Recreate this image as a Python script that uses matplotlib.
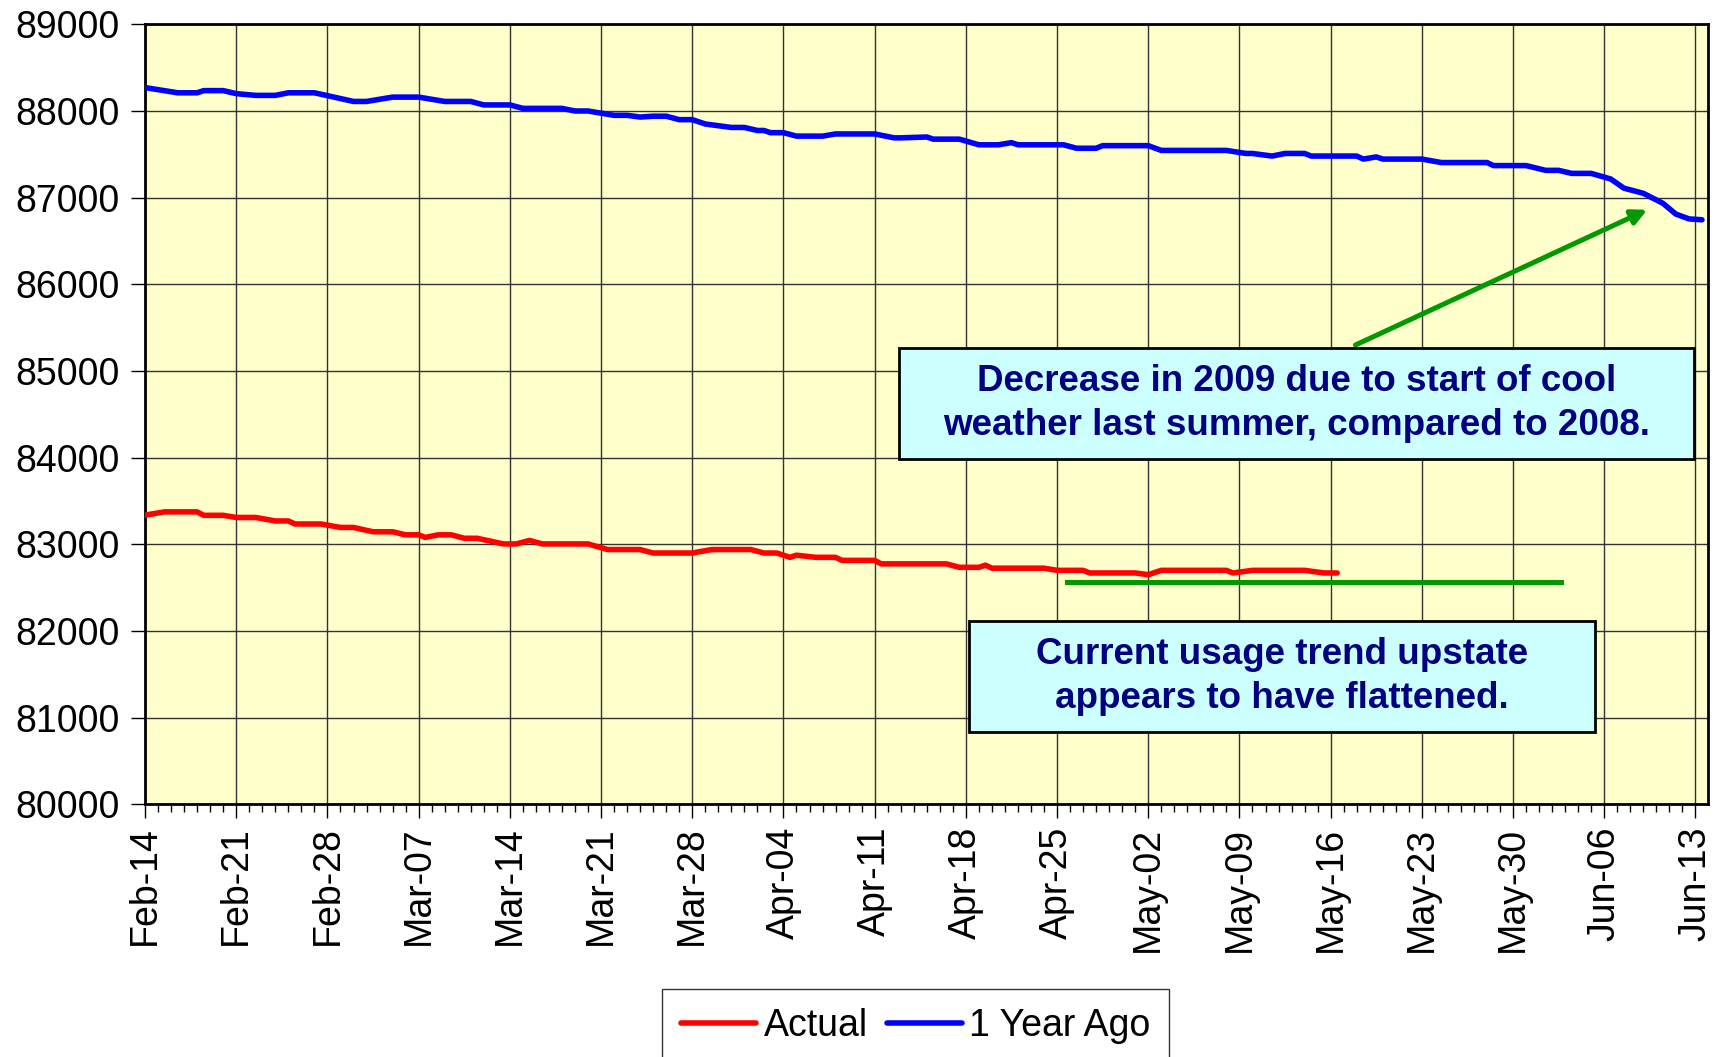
import numpy as np
import matplotlib
matplotlib.use('Agg')
import matplotlib.pyplot as plt
from matplotlib.patches import Rectangle
from matplotlib.ticker import MultipleLocator, FixedLocator

plt.rcParams['font.family'] = ['Liberation Sans', 'DejaVu Sans']

# daily category axis Feb-14 .. Jun-13 (day 0 .. 119)
tick_labels = ['Feb-14', 'Feb-21', 'Feb-28', 'Mar-07', 'Mar-14', 'Mar-21', 'Mar-28',
               'Apr-04', 'Apr-11', 'Apr-18', 'Apr-25', 'May-02', 'May-09', 'May-16',
               'May-23', 'May-30', 'Jun-06', 'Jun-13']

# 1 Year Ago (day -> value)
year_ago_days = [0, 2.5, 4, 4.5, 6, 7, 8.5, 10, 11, 13, 14.5, 16, 17, 19, 21, 23, 25, 26, 28,
                 29, 32, 33, 34, 36, 37, 38, 39, 40, 41, 42, 43, 45, 46, 47, 47.5, 48, 49, 50,
                 52, 53, 56, 57.5, 58, 60, 60.5, 62.5, 64, 65.5, 66.5, 67, 70.5, 71.5, 73,
                 73.5, 77, 78, 83, 84.5, 85, 86.5, 87.5, 89, 89.5, 93, 93.5, 94.5, 95, 98,
                 99.5, 103, 103.5, 106, 107.5, 108.5, 109.5, 111, 112.5, 113.5, 115, 116.5,
                 117.5, 118.5, 119.5]
year_ago = [88270, 88210, 88210, 88235, 88235, 88200, 88180, 88180, 88210, 88210, 88160,
            88110, 88110, 88160, 88160, 88110, 88110, 88070, 88070, 88030, 88030, 88000,
            88000, 87950, 87950, 87930, 87940, 87940, 87900, 87900, 87850, 87810, 87810,
            87775, 87775, 87750, 87750, 87710, 87710, 87735, 87735, 87690, 87690, 87700,
            87675, 87675, 87610, 87610, 87635, 87610, 87610, 87570, 87570, 87600, 87600,
            87545, 87545, 87510, 87510, 87480, 87510, 87510, 87480, 87480, 87445, 87470,
            87445, 87445, 87405, 87405, 87370, 87370, 87315, 87315, 87280, 87280, 87215,
            87110, 87050, 86935, 86810, 86755, 86745]

# Actual
actual_days = [0, 1.5, 4, 4.5, 6, 7, 8.5, 10, 11, 11.5, 13.5, 15, 16, 17.5, 19, 20, 21, 21.5,
               22.5, 23.5, 24.5, 25.5, 27.5, 28.5, 29.5, 30.5, 34, 35.5, 38, 39, 42, 43.5,
               46.5, 47.5, 48.5, 49.5, 50, 51.5, 53, 53.5, 56, 56.5, 61.5, 62.5, 64, 64.5,
               65, 69, 70, 72, 72.5, 76, 77, 78, 83, 83.5, 85, 89, 90.5, 91.5]
actual = [83337, 83375, 83375, 83335, 83335, 83310, 83310, 83270, 83270, 83235, 83235,
          83195, 83195, 83145, 83145, 83110, 83110, 83080, 83110, 83110, 83070, 83070,
          83005, 83005, 83045, 83005, 83005, 82940, 82940, 82900, 82900, 82940, 82940,
          82900, 82900, 82850, 82875, 82850, 82850, 82815, 82815, 82775, 82775, 82735,
          82735, 82760, 82725, 82725, 82700, 82700, 82670, 82670, 82650, 82700, 82700,
          82670, 82700, 82700, 82670, 82670]

trend_days = [70.8, 108.7]
trend_level = 82560

arrow_start = (92.9, 85300)
arrow_end = (115.3, 86860)

note_top = 'Decrease in 2009 due to start of cool\nweather last summer, compared to 2008.'
note_bottom = 'Current usage trend upstate\nappears to have flattened.'

fig = plt.figure(figsize=(17.31, 10.57), dpi=100)
ax = fig.add_axes([0.0838, 0.239, 0.9032, 0.738])
ax.set_facecolor('#FFFFCC')

ax.plot(actual_days, actual, color='#FF0000', lw=4, solid_capstyle='round',
        solid_joinstyle='round', label='Actual', zorder=3)
ax.plot(year_ago_days, year_ago, color='#0000FF', lw=4, solid_capstyle='round',
        solid_joinstyle='round', label='1 Year Ago', zorder=3)

ax.plot(trend_days, [trend_level, trend_level], color='#009900', lw=3.6, zorder=3)
ax.annotate('', xy=arrow_end, xytext=arrow_start,
            arrowprops=dict(arrowstyle='-|>,head_length=0.9,head_width=0.45',
                            color='#009900', lw=3.6, shrinkA=0, shrinkB=0), zorder=3)

ax.set_xlim(0, 120)
ax.set_ylim(80000, 89000)
ax.yaxis.set_major_locator(MultipleLocator(1000))
ax.xaxis.set_major_locator(FixedLocator(np.arange(0, 120, 7)))
ax.xaxis.set_minor_locator(FixedLocator(np.arange(0, 120, 1)))
ax.set_xticklabels(tick_labels, rotation=90)
ax.tick_params(axis='both', which='major', labelsize=27, direction='out', length=10, width=1)
ax.tick_params(axis='x', which='minor', direction='out', length=6, width=1)
ax.tick_params(axis='x', pad=6)
ax.tick_params(axis='y', pad=8)
ax.grid(True, which='major', color='#333333', lw=1)
ax.set_axisbelow(True)
for sp in ax.spines.values():
    sp.set_linewidth(2)
    sp.set_color('black')

# text boxes
for (x0, x1, y0, y1), txt in [((57.9, 118.9, 83987, 85263), note_top),
                               ((63.25, 111.3, 80837, 82112), note_bottom)]:
    ax.add_patch(Rectangle((x0, y0), x1 - x0, y1 - y0, facecolor='#CCFFFF',
                           edgecolor='black', lw=2, zorder=4))
    ax.text((x0 + x1) / 2, (y0 + y1) / 2, txt, ha='center', va='center',
            fontsize=26.5, fontweight='bold', color='#000080',
            linespacing=1.35, zorder=5)

leg = fig.legend(loc='upper center', bbox_to_anchor=(0.529, 0.082), ncol=2,
                 fontsize=27, frameon=True, fancybox=False, edgecolor='black',
                 handlelength=2.0, handletextpad=0.2, columnspacing=0.5,
                 borderpad=0.5)
leg.get_frame().set_linewidth(1)

fig.savefig('out.png', dpi=100)
